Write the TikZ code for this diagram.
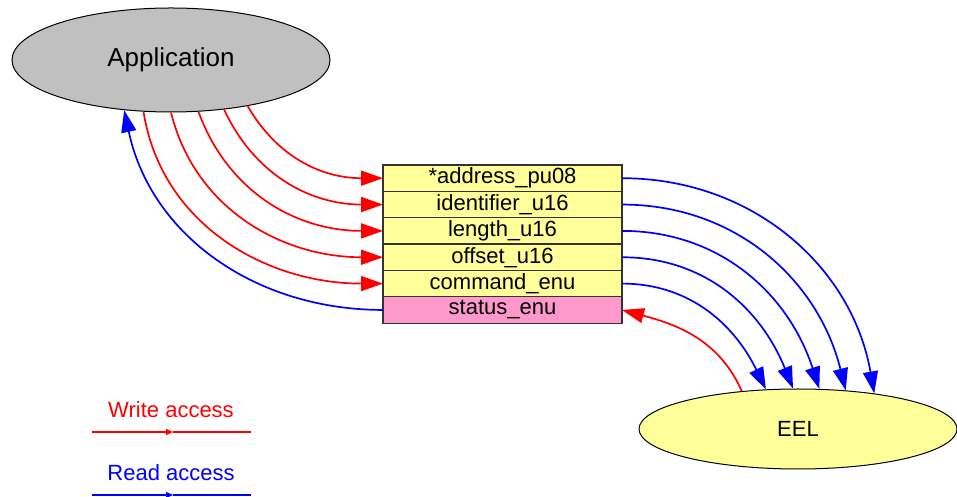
\documentclass[tikz,border=0pt]{standalone}
\usepackage{fontspec}
\setmainfont{Liberation Sans}
\usepackage{tikz}
\usetikzlibrary{shapes,arrows.meta,positioning}
\tikzset{>=latex}
\definecolor{appgray}{HTML}{C0C0C0}
\definecolor{lightyel}{HTML}{FFFF99}
\definecolor{lightpink}{HTML}{FF99CC}
\tikzset{
  fld/.style={draw=black!80,line width=1.2pt,fill=lightyel,minimum width=239pt,
    minimum height=26.35pt,inner sep=0pt,outer sep=0pt,font=\fontsize{22}{25}\selectfont},
  wr/.style={red,line width=1.7pt,-{Triangle[length=22pt,width=15pt]}},
  rd/.style={blue,line width=1.7pt,-{Triangle[length=22pt,width=15pt]}},
}

\begin{document}
\begin{tikzpicture}[x=1pt,y=1pt]
    \useasboundingbox (0,0) rectangle (957,497);
    \node [ellipse,draw,line width=1pt,fill=appgray,minimum width=318pt,minimum height=104pt,
      inner sep=0pt,font=\fontsize{26}{29}\selectfont] (app) at (171,437) {Application};
    \node [ellipse,draw,line width=1pt,fill=lightyel,minimum width=318pt,minimum height=80pt,
      inner sep=0pt,font=\fontsize{22}{25}\selectfont] (eel) at (798,68) {EEL};
    % the structure
    \node [fld] (r1) at (502.5,318.8) {*address\_pu08};
    \node [fld,below=0pt of r1] (r2) {identifier\_u16};
    \node [fld,below=0pt of r2] (r3) {length\_u16};
    \node [fld,below=0pt of r3] (r4) {offset\_u16};
    \node [fld,below=0pt of r4] (r5) {command\_enu};
    \node [fld,fill=lightpink,below=0pt of r5] (r6) {status\_enu};
    % write access by the application
    \draw [wr] (app.-31) to [out=-60,in=180] (r1.west);
    \draw [wr] (app.-43) to [out=-65,in=180] (r2.west);
    \draw [wr] (app.-62) to [out=-70,in=180] (r3.west);
    \draw [wr] (app.-90) to [out=-76,in=180] (r4.west);
    \draw [wr] (app.-118) to [out=-81,in=180] (r5.west);
    \draw [rd] (r6.west) to [out=180,in=-78] (app.-133);
    % read access by the EEL
    \draw [rd] (r1.east) to [out=0,in=100] (eel.25);
    \draw [rd] (r2.east) to [out=0,in=104] (eel.39);
    \draw [rd] (r3.east) to [out=0,in=108] (eel.62);
    \draw [rd] (r4.east) to [out=0,in=112] (eel.97);
    \draw [rd] (r5.east) to [out=0,in=116] (eel.129);
    \draw [wr] (eel.146) to [out=114,in=-15] (r6.east);
    % legend
    \node [red,font=\fontsize{22}{25}\selectfont] (wtxt) at (171,87) {Write access};
    \coordinate (w1) at (92,65);
    \coordinate (wm) at (173,65);
    \coordinate (w2) at (251,65);
    \draw [red,line width=1.2pt,-{Triangle[length=7pt,width=6pt]}] (w1) -- (wm);
    \draw [red,line width=1.2pt] (wm) -- (w2);
    \node [blue,font=\fontsize{22}{25}\selectfont] (rtxt) at (171,24) {Read access};
    \coordinate (b1) at (92,2);
    \coordinate (bm) at (173,2);
    \coordinate (b2) at (251,2);
    \draw [blue,line width=1.2pt,-{Triangle[length=7pt,width=6pt]}] (b1) -- (bm);
    \draw [blue,line width=1.2pt] (bm) -- (b2);
  \end{tikzpicture}
\end{document}
